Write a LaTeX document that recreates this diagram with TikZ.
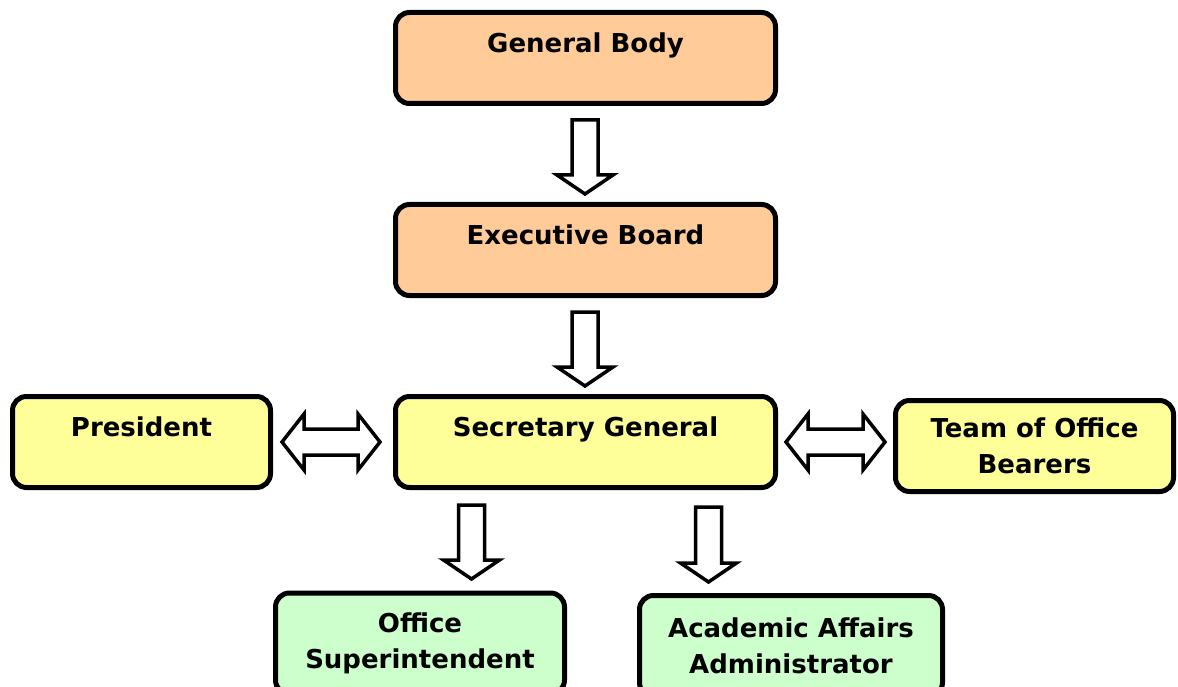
\documentclass[tikz,border=0pt]{standalone}
\usepackage{fontspec}
\setmainfont{DejaVu Sans}
\begin{document}
\begin{tikzpicture}[x=1pt,y=-1pt,
  box/.style={draw=black, line width=5pt, rounded corners=14pt, align=center,
    font=\bfseries\fontsize{26}{36}\selectfont, inner sep=0pt},
  blockarrow/.style={draw=black, fill=white, line width=3.5pt, line join=miter}]
\definecolor{orangefill}{HTML}{FFCC99}
\definecolor{yellowfill}{HTML}{FFFF99}
\definecolor{greenfill}{HTML}{CCFFCC}
\tikzset{orangebox/.style={box, fill=orangefill},
  yellowbox/.style={box, fill=yellowfill},
  greenbox/.style={box, fill=greenfill}}
% canvas
\useasboundingbox (0,0) rectangle (1178,687);
\clip (0,0) rectangle (1178,687);
\fill[white] (0,0) rectangle (1178,687);
% hollow downward block arrow: x, top, tip
\newcommand\blockdown[3]{%
  \draw[blockarrow] ({#1-13},{#2}) -- ({#1+13},{#2}) -- ({#1+13},{#3-19})
    -- ({#1+28},{#3-19}) -- ({#1},{#3}) -- ({#1-28},{#3-19})
    -- ({#1-13},{#3-19}) -- cycle;}
% hollow two-headed block arrow: left tip, right tip, y
\newcommand\blockboth[3]{%
  \draw[blockarrow] ({#1},{#3}) -- ({#1+22},{#3-28}) -- ({#1+22},{#3-13})
    -- ({#2-22},{#3-13}) -- ({#2-22},{#3-28}) -- ({#2},{#3})
    -- ({#2-22},{#3+28}) -- ({#2-22},{#3+13}) -- ({#1+22},{#3+13})
    -- ({#1+22},{#3+28}) -- cycle;}
% boxes
\node[orangebox, minimum width=380, minimum height=91] (gb) at (585.5,58) {General Body\\[-6pt]~};
\node[orangebox, minimum width=380, minimum height=91] (eb) at (585.5,250) {Executive Board\\[-6pt]~};
\node[yellowbox, minimum width=380, minimum height=91] (sg) at (585.5,442) {Secretary General\\[-6pt]~};
\node[yellowbox, minimum width=258, minimum height=91] (pres) at (141.5,442) {President\\[-6pt]~};
\node[yellowbox, minimum width=278, minimum height=91] (team) at (1034.5,446) {Team of Office\\Bearers};
\node[greenbox, minimum width=289, minimum height=101] (os) at (420,643.5) {Office\\Superintendent};
\node[greenbox, minimum width=303, minimum height=101] (aa) at (791,646) {Academic Affairs\\Administrator};
% arrows
\blockdown{585}{120}{194}
\blockdown{585}{312}{386}
\blockdown{471.5}{505}{579}
\blockdown{708.5}{507}{582}
\blockboth{282}{380}{442}
\blockboth{786}{885}{442}
\end{tikzpicture}
\end{document}
